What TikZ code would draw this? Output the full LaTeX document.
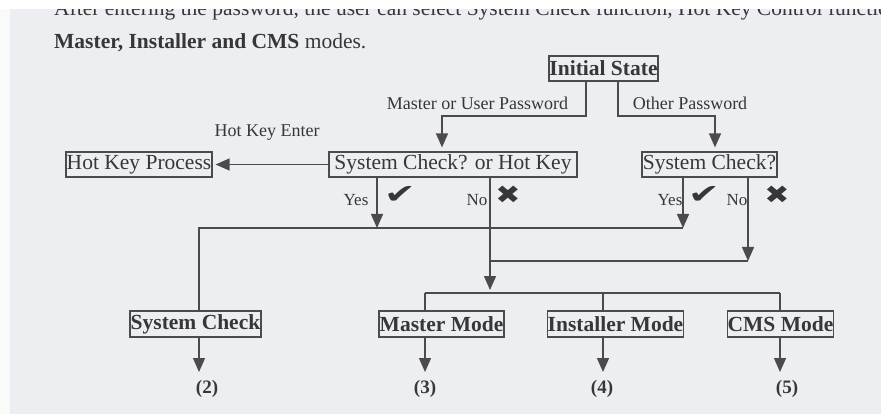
\documentclass[tikz,border=0pt]{standalone}
\usepackage{fontspec}
\setmainfont{Liberation Serif}
\newfontfamily\symfont{DejaVu Sans}
\usetikzlibrary{arrows.meta,calc}
\definecolor{bg}{RGB}{236,238,242}
\definecolor{ink}{RGB}{55,55,58}
\definecolor{ln}{RGB}{75,75,78}
\tikzset{
  box/.style={draw=ln, line width=1.2pt, text=ink, inner sep=0pt, minimum height=25pt,
    font=\fontsize{21.5}{24}\selectfont},
  bbox/.style={box, font=\fontsize{21.5}{24}\selectfont\bfseries},
  lab/.style={text=ink, inner sep=0pt, font=\fontsize{18}{20}\selectfont},
  yn/.style={text=ink, inner sep=0pt, font=\fontsize{17}{19}\selectfont},
  chk/.style={text=ink, inner sep=0pt, font=\symfont\fontsize{27}{29}\selectfont},
  xmk/.style={text=ink, inner sep=0pt, font=\symfont\fontsize{25}{27}\selectfont},
  outl/.style={text=ink, inner sep=0pt, font=\fontsize{19}{21}\selectfont\bfseries},
  conn/.style={draw=ln, line width=1.4pt},
  arr/.style={conn, -{Triangle[length=14pt,width=12pt]}},
}
\begin{document}
\begin{tikzpicture}[x=1pt,y=-1pt]
\useasboundingbox (0,0) rectangle (881,414);
\fill[bg] (0,0) rectangle (881,414);
\fill[bg!88!black!12] (0,0) rectangle (10,414);

% paragraph text
\node[anchor=base west, text=ink, inner sep=0pt, font=\fontsize{21.5}{24}\selectfont] (para0) at (54,16)
  {After entering the password, the user can select System Check function, Hot Key Control function,};
\fill[white] (0,0) rectangle (881,9);
\node[anchor=base west, text=ink, inner sep=0pt, font=\fontsize{21.5}{24}\selectfont] (para1) at (54,49)
  {\textbf{Master, Installer and CMS} modes.};

% boxes
\node[bbox, minimum width=109pt] (init) at (603.5,68.5) {Initial State};
\node[box, minimum width=248pt] (sch) at (453,164.5) {System Check? or Hot Key};
\node[box, minimum width=135pt] (sc) at (709.5,164.5) {System Check?};
\node[box, minimum width=146pt] (hkp) at (139,164.5) {Hot Key Process};
\node[bbox, minimum width=131pt, minimum height=26pt] (scm) at (195.5,324) {System Check};
\node[bbox, minimum width=125pt, minimum height=26pt] (mm) at (441.5,324) {Master Mode};
\node[bbox, minimum width=135pt, minimum height=26pt] (im) at (615.5,324) {Installer Mode};
\node[bbox, minimum width=105pt, minimum height=26pt] (cms) at (780.5,324) {CMS Mode};

% labels
\node[lab] (mup) at (477.5,103) {Master or User Password};
\node[lab] (op) at (690,103) {Other Password};
\node[lab] (hke) at (267,133) {Hot Key Enter};
\node[yn] (yes1) at (356,200) {Yes};
\node[chk] (chk1) at (400,195) {\scalebox{1.4}[1]{✔}};
\node[yn] (no1) at (477,200) {No};
\node[xmk] (x1) at (508,195) {\scalebox{1.2}[1]{✖}};
\node[yn] (yes2) at (670,200) {Yes};
\node[chk] (chk2) at (704,195) {\scalebox{1.4}[1]{✔}};
\node[yn] (no2) at (737,200) {No};
\node[xmk] (x2) at (777,195) {\scalebox{1.2}[1]{✖}};
\node[outl] (o2) at (207,389) {(2)};
\node[outl] (o3) at (425,389) {(3)};
\node[outl] (o4) at (602,389) {(4)};
\node[outl] (o5) at (787,389) {(5)};

% junction coordinates
\coordinate (a1) at (586,116);
\coordinate (a2) at (442,116);
\coordinate (b1) at (618,116);
\coordinate (b2) at (715,116);
\coordinate (y0) at (199,228);
\coordinate (y1) at (377,228);
\coordinate (y2) at (683,228);
\coordinate (n1) at (490,290);
\coordinate (n2) at (748,261);
\coordinate (m0) at (425,293);
\coordinate (m1) at (603,293);
\coordinate (m3) at (780,293);
\coordinate (t2) at (199,372);
\coordinate (t3) at (425,372);
\coordinate (t4) at (603,372);
\coordinate (t5) at (780,372);

% connectors
\draw[arr, shorten >=4pt] (init.south -| a1) -- (a1) -- (a2) -- (sch.north -| a2);
\draw[arr, shorten >=4pt] (init.south -| b1) -- (b1) -- (b2) -- (sc.north -| b2);
\draw[arr, shorten >=3pt] (sch.west) -- (hkp.east);
\draw[arr] (sch.south -| y1) -- (y1);
\draw[arr] (sc.south -| y2) -- (y2);
\draw[conn] (y2) -- (y0) -- (scm.north -| y0);
\draw[arr] (sch.south -| n1) -- (n1);
\draw[arr] (sc.south -| n2) -- (n2);
\draw[conn] (n2) -- (n2 -| n1);
\draw[conn] (m0) -- (m3);
\draw[conn] (m0) -- (mm.north -| m0);
\draw[conn] (m1) -- (im.north -| m1);
\draw[conn] (m3) -- (cms.north -| m3);
\draw[arr] (scm.south -| t2) -- (t2);
\draw[arr] (mm.south -| t3) -- (t3);
\draw[arr] (im.south -| t4) -- (t4);
\draw[arr] (cms.south -| t5) -- (t5);
\end{tikzpicture}
\end{document}
